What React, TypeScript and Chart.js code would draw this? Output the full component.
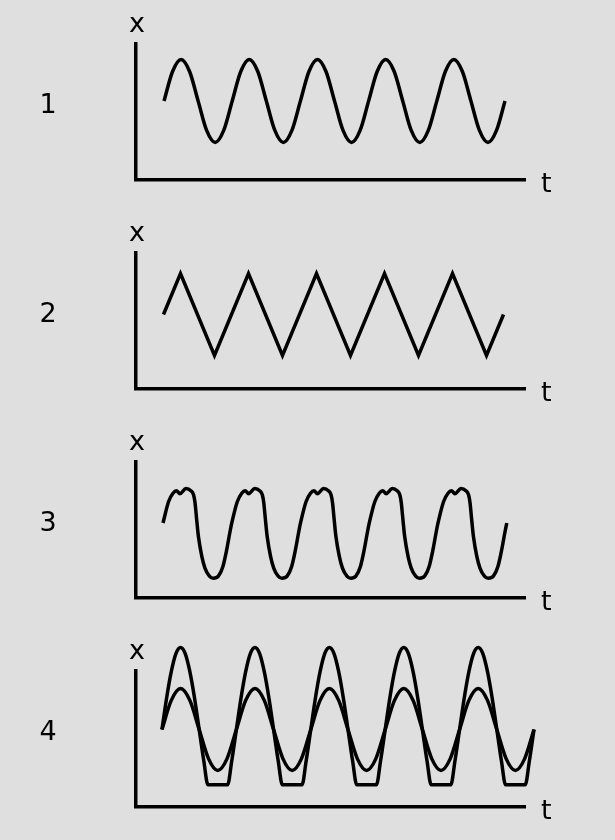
import React, { useEffect, useRef } from 'react';
import { Chart, registerables } from 'chart.js';

Chart.register(...registerables);

// ---- text ----
const panelNumbers = ['1', '2', '3', '4'];
const verticalAxisLabel = 'x';
const horizontalAxisLabel = 't';

// ---- panel 1: sine (t in periods, x in amplitude units) ----
const t1 = [0, 0.125, 0.25, 0.375, 0.5, 0.625, 0.75, 0.875, 1, 1.125, 1.25, 1.375, 1.5, 1.625, 1.75, 1.875, 2, 2.125, 2.25, 2.375, 2.5, 2.625, 2.75, 2.875, 3, 3.125, 3.25, 3.375, 3.5, 3.625, 3.75, 3.875, 4, 4.125, 4.25, 4.375, 4.5, 4.625, 4.75, 4.875, 5];
const x1 = [0, 0.71, 1, 0.71, 0, -0.71, -1, -0.71, 0, 0.71, 1, 0.71, 0, -0.71, -1, -0.71, 0, 0.71, 1, 0.71, 0, -0.71, -1, -0.71, 0, 0.71, 1, 0.71, 0, -0.71, -1, -0.71, 0, 0.71, 1, 0.71, 0, -0.71, -1, -0.71, 0];

// ---- panel 2: triangle ----
const t2 = [0, 0.25, 0.75, 1.25, 1.75, 2.25, 2.75, 3.25, 3.75, 4.25, 4.75, 5];
const x2 = [0, 1, -1, 1, -1, 1, -1, 1, -1, 1, -1, 0];

// ---- panel 3: distorted periodic wave ----
const t3 = [
  0, 0.08, 0.145, 0.195, 0.245, 0.335, 0.405, 0.445, 0.465, 0.49, 0.515, 0.565, 0.61, 0.675, 0.73, 0.805, 0.87, 0.925, 0.975,
  1, 1.08, 1.145, 1.195, 1.245, 1.335, 1.405, 1.445, 1.465, 1.49, 1.515, 1.565, 1.61, 1.675, 1.73, 1.805, 1.87, 1.925, 1.975,
  2, 2.08, 2.145, 2.195, 2.245, 2.335, 2.405, 2.445, 2.465, 2.49, 2.515, 2.565, 2.61, 2.675, 2.73, 2.805, 2.87, 2.925, 2.975,
  3, 3.08, 3.145, 3.195, 3.245, 3.335, 3.405, 3.445, 3.465, 3.49, 3.515, 3.565, 3.61, 3.675, 3.73, 3.805, 3.87, 3.925, 3.975,
  4, 4.08, 4.145, 4.195, 4.245, 4.335, 4.405, 4.445, 4.465, 4.49, 4.515, 4.565, 4.61, 4.675, 4.73, 4.805, 4.87, 4.925, 4.975,
  5,
];
const x3 = [
  0, 0.5, 0.7, 0.76, 0.69, 0.81, 0.76, 0.66, 0.48, 0.07, -0.32, -0.79, -1.06, -1.25, -1.3, -1.25, -1.03, -0.64, -0.2,
  0, 0.5, 0.7, 0.76, 0.69, 0.81, 0.76, 0.66, 0.48, 0.07, -0.32, -0.79, -1.06, -1.25, -1.3, -1.25, -1.03, -0.64, -0.2,
  0, 0.5, 0.7, 0.76, 0.69, 0.81, 0.76, 0.66, 0.48, 0.07, -0.32, -0.79, -1.06, -1.25, -1.3, -1.25, -1.03, -0.64, -0.2,
  0, 0.5, 0.7, 0.76, 0.69, 0.81, 0.76, 0.66, 0.48, 0.07, -0.32, -0.79, -1.06, -1.25, -1.3, -1.25, -1.03, -0.64, -0.2,
  0, 0.5, 0.7, 0.76, 0.69, 0.81, 0.76, 0.66, 0.48, 0.07, -0.32, -0.79, -1.06, -1.25, -1.3, -1.25, -1.03, -0.64, -0.2,
  0,
];

// ---- panel 4: small sine and large clipped sine ----
const t4small = [0, 0.125, 0.25, 0.375, 0.5, 0.625, 0.75, 0.875, 1, 1.125, 1.25, 1.375, 1.5, 1.625, 1.75, 1.875, 2, 2.125, 2.25, 2.375, 2.5, 2.625, 2.75, 2.875, 3, 3.125, 3.25, 3.375, 3.5, 3.625, 3.75, 3.875, 4, 4.125, 4.25, 4.375, 4.5, 4.625, 4.75, 4.875, 5];
const x4small = [0, 0.71, 1, 0.71, 0, -0.71, -1, -0.71, 0, 0.71, 1, 0.71, 0, -0.71, -1, -0.71, 0, 0.71, 1, 0.71, 0, -0.71, -1, -0.71, 0, 0.71, 1, 0.71, 0, -0.71, -1, -0.71, 0, 0.71, 1, 0.71, 0, -0.71, -1, -0.71, 0];
const t4large = [
  0, 0.0625, 0.125, 0.1875, 0.25, 0.3125, 0.375, 0.4375, 0.5, 0.5625, 0.618, 0.882, 0.9375,
  1, 1.0625, 1.125, 1.1875, 1.25, 1.3125, 1.375, 1.4375, 1.5, 1.5625, 1.618, 1.882, 1.9375,
  2, 2.0625, 2.125, 2.1875, 2.25, 2.3125, 2.375, 2.4375, 2.5, 2.5625, 2.618, 2.882, 2.9375,
  3, 3.0625, 3.125, 3.1875, 3.25, 3.3125, 3.375, 3.4375, 3.5, 3.5625, 3.618, 3.882, 3.9375,
  4, 4.0625, 4.125, 4.1875, 4.25, 4.3125, 4.375, 4.4375, 4.5, 4.5625, 4.618, 4.882, 4.9375,
  5,
];
const x4large = [
  0, 0.77, 1.41, 1.85, 2, 1.85, 1.41, 0.77, 0, -0.77, -1.35, -1.35, -0.77,
  0, 0.77, 1.41, 1.85, 2, 1.85, 1.41, 0.77, 0, -0.77, -1.35, -1.35, -0.77,
  0, 0.77, 1.41, 1.85, 2, 1.85, 1.41, 0.77, 0, -0.77, -1.35, -1.35, -0.77,
  0, 0.77, 1.41, 1.85, 2, 1.85, 1.41, 0.77, 0, -0.77, -1.35, -1.35, -0.77,
  0, 0.77, 1.41, 1.85, 2, 1.85, 1.41, 0.77, 0, -0.77, -1.35, -1.35, -0.77,
  0,
];

type Series = { t: number[]; v: number[]; smooth: boolean };
type PanelSpec = { series: Series[]; xMin: number; xMax: number; yMin: number; yMax: number; top: number };

const panels: PanelSpec[] = [
  { series: [{ t: t1, v: x1, smooth: true }], xMin: -0.411, xMax: 5.293, yMin: -1.904, yMax: 1.373, top: 0 },
  { series: [{ t: t2, v: x2, smooth: false }], xMin: -0.404, xMax: 5.316, yMin: -1.817, yMax: 1.5, top: 209 },
  { series: [{ t: t3, v: x3, smooth: true }], xMin: -0.393, xMax: 5.265, yMin: -1.765, yMax: 1.435, top: 418 },
  {
    series: [
      { t: t4large, v: x4large, smooth: true },
      { t: t4small, v: x4small, smooth: true },
    ],
    xMin: -0.349, xMax: 4.879, yMin: -1.89, yMax: 1.427, top: 627,
  },
];

const W = 615;
const H = 210;
const FONT = '27px "DejaVu Sans", sans-serif';
const LINE_W = 3.5;

function Panel({ spec, number }: { spec: PanelSpec; number: string }) {
  const ref = useRef<HTMLCanvasElement>(null);
  useEffect(() => {
    if (!ref.current) return;
    const labelPlugin = {
      id: 'labels',
      afterDraw(chart: any) {
        const { ctx, chartArea } = chart;
        ctx.save();
        ctx.fillStyle = '#000';
        ctx.font = FONT;
        ctx.textBaseline = 'alphabetic';
        ctx.textAlign = 'center';
        ctx.fillText(verticalAxisLabel, chartArea.left + 1, chartArea.top - 12);
        ctx.fillText(number, 48, chartArea.top + 69);
        ctx.textAlign = 'left';
        ctx.fillText(horizontalAxisLabel, chartArea.right + 16, chartArea.bottom + 12);
        ctx.restore();
      },
    };
    const chart = new Chart(ref.current, {
      type: 'line',
      data: {
        datasets: spec.series.map((s) => ({
          data: s.t.map((t, i) => ({ x: t, y: s.v[i] })),
          borderColor: '#000',
          borderWidth: LINE_W,
          pointRadius: 0,
          pointHoverRadius: 0,
          fill: false,
          tension: 0,
          cubicInterpolationMode: s.smooth ? 'monotone' : 'default',
          borderJoinStyle: 'miter',
          clip: false,
        })) as any,
      },
      options: {
        responsive: false,
        animation: false,
        events: [],
        layout: { padding: { left: 136, right: 90, top: 44, bottom: 30 } },
        plugins: { legend: { display: false }, tooltip: { enabled: false }, title: { display: false } },
        scales: {
          x: {
            type: 'linear',
            bounds: 'data',
            afterDataLimits: (scale: any) => {
              scale.min = spec.xMin;
              scale.max = spec.xMax;
            },
            grid: { display: false, drawTicks: false, tickLength: 0 },
            ticks: { display: false },
            border: { display: true, width: LINE_W, color: '#000' },
          },
          y: {
            type: 'linear',
            min: spec.yMin,
            max: spec.yMax,
            grid: { display: false, drawTicks: false, tickLength: 0 },
            ticks: { display: false },
            border: { display: true, width: LINE_W, color: '#000' },
          },
        },
      } as any,
      plugins: [labelPlugin],
    });
    return () => chart.destroy();
  }, [spec, number]);
  return (
    <canvas
      ref={ref}
      width={W}
      height={H}
      style={{ position: 'absolute', left: 0, top: spec.top, width: W, height: H }}
    />
  );
}

export default function App() {
  return (
    <div
      style={{
        position: 'fixed',
        left: 0,
        top: 0,
        width: 615,
        height: 840,
        background: '#dfdfdf',
        overflow: 'hidden',
      }}
    >
      {panels.map((p, i) => (
        <Panel key={i} spec={p} number={panelNumbers[i]} />
      ))}
    </div>
  );
}
